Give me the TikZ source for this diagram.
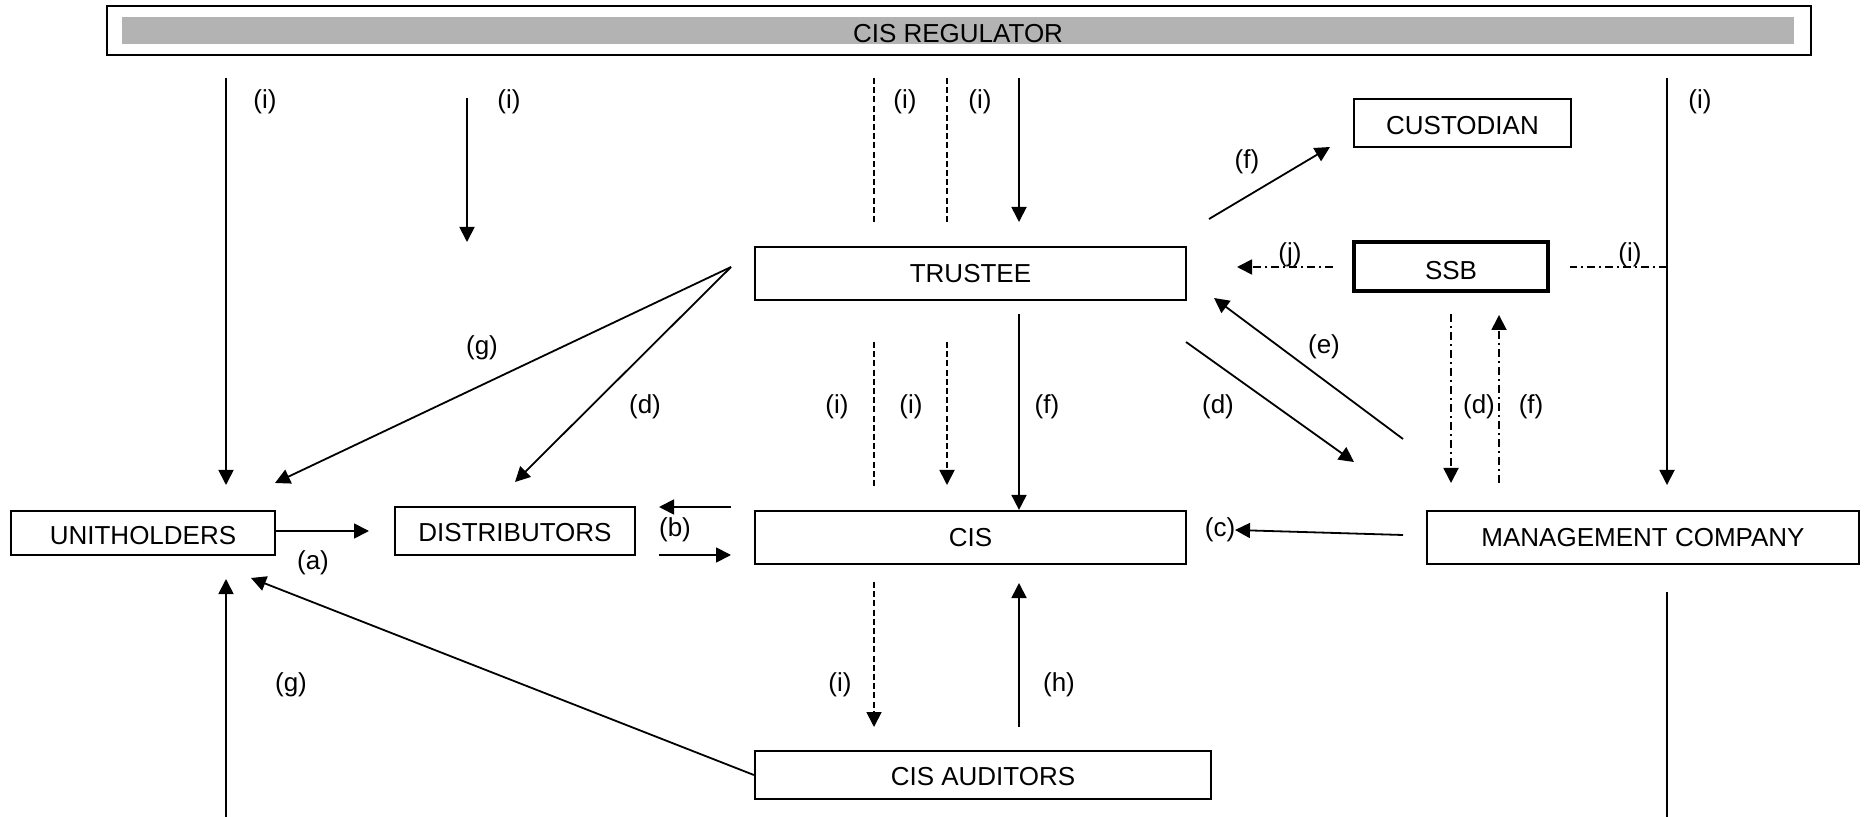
\documentclass[tikz,border=0pt]{standalone}
\usepackage{fontspec}
\setmainfont{Liberation Sans}
\usetikzlibrary{arrows.meta}
\definecolor{regray}{RGB}{179,179,179}
\begin{document}
\begin{tikzpicture}[x=0.5pt,y=-0.5pt,
  txt/.style={font=\fontsize{13}{15}\selectfont},
  tlow/.style={text height={9.3pt+2*#1},text depth=0pt},
  tlow/.default=0pt,
  box/.style={draw,line width=1.1pt,inner sep=0pt,txt,tlow},
  lbl/.style={inner sep=0pt,txt},
  conn/.style={line width=0.9pt},
  arr/.style={conn,-{Triangle[length=7.5pt,width=7.5pt]}},
  dsh/.style={dash pattern=on 3pt off 1.6pt},
  dshdot/.style={dash pattern=on 4pt off 2pt on 1pt off 2pt},
]
\useasboundingbox (0,0) rectangle (1868,817);

% boxes
\node[draw,line width=1.1pt,minimum width=852pt,minimum height=24.5pt,inner sep=0pt] (reg) at (959,30.5) {};
\node[fill=regray,minimum width=836pt,minimum height=13.5pt,inner sep=0pt,txt,tlow=1.2pt] (regbar) at (958,31) {CIS REGULATOR};
\node[box,tlow=1.25pt,minimum width=132pt,minimum height=22pt] (unit) at (143,533) {UNITHOLDERS};
\node[box,tlow=0.75pt,minimum width=120pt,minimum height=24pt] (dist) at (515,531) {DISTRIBUTORS};
\node[box,minimum width=215.5pt,minimum height=26.5pt] (trustee) at (970.5,273.5) {TRUSTEE};
\node[box,minimum width=215.5pt,minimum height=26.5pt] (cis) at (970.5,537.5) {CIS};
\node[box,tlow=0.5pt,minimum width=228pt,minimum height=24pt] (aud) at (983,775) {CIS AUDITORS};
\node[box,tlow=1.25pt,minimum width=108.5pt,minimum height=24pt] (cust) at (1462.5,123) {CUSTODIAN};
\node[box,tlow=1.75pt,line width=2.2pt,minimum width=97pt,minimum height=24.5pt] (ssb) at (1451,266.5) {SSB};
\node[box,minimum width=216pt,minimum height=26.5pt] (mc) at (1643,537.5) {MANAGEMENT COMPANY};

% free end points
\coordinate (a1s) at (226,78);   \coordinate (a1e) at (226,485);
\coordinate (a2s) at (467,98);   \coordinate (a2e) at (467,242);
\coordinate (a3s) at (874,78);   \coordinate (a3e) at (874,223);
\coordinate (a4s) at (947,78);   \coordinate (a4e) at (947,223);
\coordinate (a5s) at (1019,78);  \coordinate (a5e) at (1019,222);
\coordinate (a6s) at (1667,78);  \coordinate (a6e) at (1667,485);
\coordinate (fcs) at (1209,219); \coordinate (fce) at (1330,147);
\coordinate (js) at (1333,267);  \coordinate (je) at (1237,267);
\coordinate (iss) at (1667,267); \coordinate (ise) at (1570,267);
\coordinate (tl) at (731,267);
\coordinate (g1e) at (275,483);  \coordinate (d1e) at (515,482);
\coordinate (m1s) at (874,342);  \coordinate (m1e) at (874,487);
\coordinate (m2s) at (947,342);  \coordinate (m2e) at (947,485);
\coordinate (fs) at (1019,314);
\coordinate (d2s) at (1186,342); \coordinate (d2e) at (1354,462);
\coordinate (es) at (1403,439);  \coordinate (ee) at (1214,298);
\coordinate (d3s) at (1451,314); \coordinate (d3e) at (1451,483);
\coordinate (f3s) at (1499,483); \coordinate (f3e) at (1499,315);
\coordinate (ae) at (369,531);
\coordinate (b1s) at (731,507);  \coordinate (b1e) at (659,507);
\coordinate (b2s) at (659,555);  \coordinate (b2e) at (731,555);
\coordinate (cs) at (1403,535);  \coordinate (ce) at (1235,530);
\coordinate (ias) at (874,582);  \coordinate (iae) at (874,727);
\coordinate (hs) at (1019,727);  \coordinate (he) at (1019,583);
\coordinate (g2e) at (251,578);
\coordinate (bls) at (226,817);  \coordinate (ble) at (226,579);
\coordinate (brs) at (1667,592); \coordinate (bre) at (1667,817);

% connectors
\draw[arr] (a1s) -- (a1e);
\draw[arr] (a2s) -- (a2e);
\draw[conn,dsh] (a3s) -- (a3e);
\draw[conn,dsh] (a4s) -- (a4e);
\draw[arr] (a5s) -- (a5e);
\draw[arr] (a6s) -- (a6e);
\draw[arr] (fcs) -- (fce);
\draw[arr,dshdot] (js) -- (je);
\draw[conn,dshdot] (iss) -- (ise);
\draw[arr] (tl) -- (g1e);
\draw[arr] (tl) -- (d1e);
\draw[conn,dsh] (m1s) -- (m1e);
\draw[arr,dsh] (m2s) -- (m2e);
\draw[arr] (fs) -- (fs |- cis.north);
\draw[arr] (d2s) -- (d2e);
\draw[arr] (es) -- (ee);
\draw[arr,dshdot] (d3s) -- (d3e);
\draw[arr,dshdot] (f3s) -- (f3e);
\draw[arr] (unit.east |- ae) -- (ae);
\draw[arr] (b1s) -- (b1e);
\draw[arr] (b2s) -- (b2e);
\draw[arr] (cs) -- (ce);
\draw[arr,dsh] (ias) -- (iae);
\draw[arr] (hs) -- (he);
\draw[arr] (aud.west) -- (g2e);
\draw[arr] (bls) -- (ble);
\draw[conn] (brs) -- (bre);

% labels
\node[lbl] (l1) at (265,102) {(i)};
\node[lbl] (l2) at (509,102) {(i)};
\node[lbl] (l3) at (905,102) {(i)};
\node[lbl] (l4) at (980,102) {(i)};
\node[lbl] (l6) at (1700,102) {(i)};
\node[lbl] (lfc) at (1247,162) {(f)};
\node[lbl] (lj) at (1290,255) {(j)};
\node[lbl] (lis) at (1630,255) {(i)};
\node[lbl] (lg1) at (482,348) {(g)};
\node[lbl] (ld1) at (645,407) {(d)};
\node[lbl] (lm1) at (837,407) {(i)};
\node[lbl] (lm2) at (911,407) {(i)};
\node[lbl] (lf) at (1047,407) {(f)};
\node[lbl] (ld2) at (1218,407) {(d)};
\node[lbl] (le) at (1324,347) {(e)};
\node[lbl] (ld3) at (1479,407) {(d)};
\node[lbl] (lf3) at (1531,407) {(f)};
\node[lbl] (la) at (313,563) {(a)};
\node[lbl] (lb) at (675,530) {(b)};
\node[lbl] (lc) at (1220,530) {(c)};
\node[lbl] (lia) at (840,685) {(i)};
\node[lbl] (lh) at (1059,685) {(h)};
\node[lbl] (lg2) at (291,685) {(g)};
\end{tikzpicture}
\end{document}
